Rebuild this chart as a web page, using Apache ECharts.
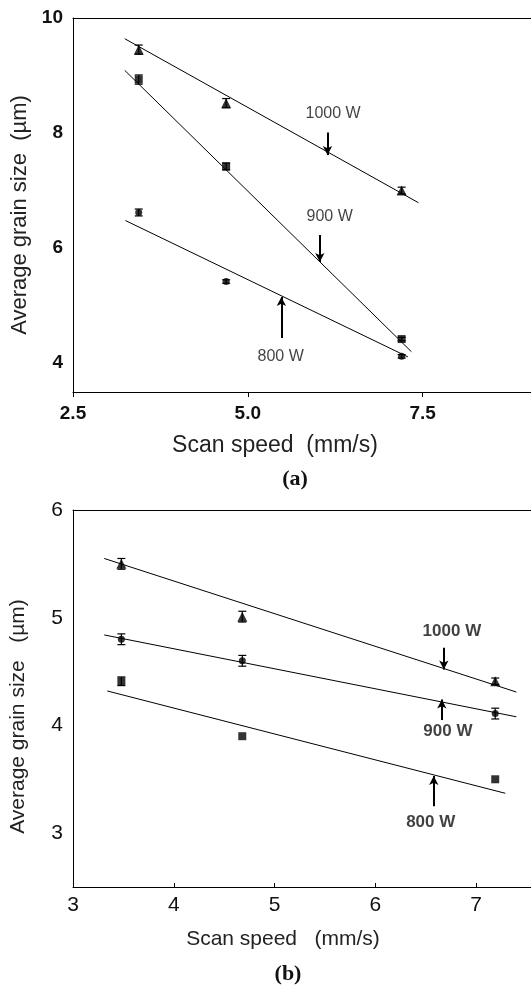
<!DOCTYPE html>
<html>
<head>
<meta charset="utf-8">
<script src="https://cdn.jsdelivr.net/npm/echarts@6/dist/echarts.min.js"></script>
<style>html,body{margin:0;padding:0;background:#fff}#c{width:531px;height:987px}</style>
</head>
<body>
<div id="c"></div>
<script>
// ---------- Panel (a) ----------
const speedsA = [3.44, 4.69, 7.20];
const grainA1000 = [9.45, 8.52, 7.00];
const grainA900 = [8.93, 7.42, 4.42];
const grainA800 = [6.62, 5.42, 4.12];
const errA1000 = [0.08, 0.08, 0.06];
const errA900 = [0.08, 0.06, 0.03];
const errA800 = [0.06, 0.03, 0.03];
const fitXA1000 = [3.24, 7.44], fitYA1000 = [9.64, 6.79];
const fitXA900 = [3.24, 7.34], fitYA900 = [9.09, 4.20];
const fitXA800 = [3.25, 7.29], fitYA800 = [6.48, 4.11];
const xTicksA = [2.5, 5.0, 7.5];
const yTicksA = [4, 6, 8, 10];
// annotation labels & arrows (data coordinates)
const labelsA = ['1000 W', '900 W', '800 W'];
const labelPosA = [[6.22, 8.33], [6.17, 6.54], [5.47, 4.12]];
const arrowsA = [[[6.14, 8.01], [6.14, 7.62]], [[6.03, 6.23], [6.03, 5.76]], [[5.48, 4.44], [5.48, 5.15]]];

// ---------- Panel (b) ----------
const speedsB = [3.48, 4.68, 7.19];
const grainB1000 = [5.50, 5.01, 4.41];
const grainB900 = [4.80, 4.60, 4.11];
const grainB800 = [4.41, 3.90, 3.50];
const errB1000 = [0.05, 0.05, 0.03];
const errB900 = [0.05, 0.05, 0.05];
const errB800 = [0.04, 0.0, 0.0];
const fitXB1000 = [3.31, 7.40], fitYB1000 = [5.55, 4.31];
const fitXB900 = [3.31, 7.40], fitYB900 = [4.84, 4.08];
const fitXB800 = [3.34, 7.29], fitYB800 = [4.32, 3.37];
const xTicksB = [3, 4, 5, 6, 7];
const yTicksB = [3, 4, 5, 6];
const labelsB = ['1000 W', '900 W', '800 W'];
const labelPosB = [[6.76, 4.87], [6.72, 3.95], [6.55, 3.10]];
const arrowsB = [[[6.68, 4.72], [6.68, 4.52]], [[6.66, 4.05], [6.66, 4.24]], [[6.58, 3.25], [6.58, 3.53]]];

// visible x-extent (plot frame runs past the right edge of the picture)
const xRangeA = [2.5, 9.05];
const xRangeB = [3, 7.545];

const SANS = 'Liberation Sans, Arial, sans-serif';
const zip = (xs, ys) => xs.map((x, i) => [x, ys[i]]);
const zip3 = (xs, ys, es) => xs.map((x, i) => [x, ys[i], es[i]]);
const isTick = (ticks, v) => ticks.some(t => Math.abs(t - v) < 1e-9);

function fitLine(xs, ys, g) {
  return { type: 'line', xAxisIndex: g, yAxisIndex: g, data: zip(xs, ys), symbol: 'none',
    lineStyle: { color: '#000', width: 1 }, z: 2, silent: true };
}
function pts(xs, ys, symbol, size, g) {
  return { type: 'scatter', xAxisIndex: g, yAxisIndex: g, data: zip(xs, ys), symbol: symbol,
    symbolSize: size, itemStyle: { color: '#000' }, z: 4 };
}
function errBars(xs, ys, es, g) {
  return { type: 'custom', xAxisIndex: g, yAxisIndex: g, data: zip3(xs, ys, es), z: 3,
    renderItem: function (params, api) {
      const x = api.value(0), y = api.value(1), e = api.value(2);
      if (!e) return null;
      const lo = api.coord([x, y - e]), hi = api.coord([x, y + e]);
      const w = 4;
      const st = { stroke: '#000', lineWidth: 1.2 };
      return { type: 'group', children: [
        { type: 'line', shape: { x1: lo[0], y1: lo[1], x2: hi[0], y2: hi[1] }, style: st },
        { type: 'line', shape: { x1: lo[0] - w, y1: lo[1], x2: lo[0] + w, y2: lo[1] }, style: st },
        { type: 'line', shape: { x1: hi[0] - w, y1: hi[1], x2: hi[0] + w, y2: hi[1] }, style: st }
      ] };
    } };
}
function annotations(names, pos, arrows, g, bold) {
  return { type: 'scatter', xAxisIndex: g, yAxisIndex: g, symbolSize: 0, silent: true,
    data: names.map((n, i) => ({ name: n, value: pos[i] })),
    label: { show: true, position: 'inside', formatter: p => p.name, color: '#111',
      fontFamily: SANS, fontSize: bold ? 17 : 16, fontWeight: bold ? 'bold' : 'normal' },
    markLine: { silent: true, symbol: ['none', 'arrow'], symbolSize: [7, 9], animation: false,
      lineStyle: { color: '#000', width: 2, type: 'solid' }, label: { show: false },
      data: arrows.map(a => [{ coord: a[0] }, { coord: a[1] }]) } };
}
function topFrame(g, range) {
  return { type: 'value', gridIndex: g, position: 'top', min: range[0], max: range[1],
    axisLine: { show: true, onZero: false, lineStyle: { color: '#000', width: 1 } },
    axisTick: { show: false }, axisLabel: { show: false }, splitLine: { show: false } };
}

const chart = echarts.init(document.getElementById('c'), null, { renderer: 'canvas' });
const option = {
  animation: false,
  backgroundColor: '#fff',
  title: [
    { text: '(a)', left: 290, top: 463, textAlign: 'center',
      textStyle: { fontFamily: 'Liberation Serif, Times New Roman, serif', fontWeight: 'bold', fontSize: 22, color: '#111' } },
    { text: '(b)', left: 283, top: 958, textAlign: 'center',
      textStyle: { fontFamily: 'Liberation Serif, Times New Roman, serif', fontWeight: 'bold', fontSize: 22, color: '#111' } }
  ],
  grid: [
    { left: 73, top: 18, height: 374, right: 0, show: false, containLabel: false },
    { left: 73, top: 510, height: 377, right: 0, show: false, containLabel: false }
  ],
  xAxis: [
    { type: 'value', gridIndex: 0, min: xRangeA[0], max: xRangeA[1], interval: 2.5,
      axisLine: { onZero: false, lineStyle: { color: '#000', width: 1 } },
      axisTick: { show: true, inside: false, length: 5, lineStyle: { color: '#000' } },
      splitLine: { show: false },
      axisLabel: { margin: 12, color: '#111', fontFamily: SANS, fontWeight: 'bold', fontSize: 19,
        showMaxLabel: false,
        formatter: v => (isTick(xTicksA, v) ? v.toFixed(1) : '') },
      name: 'Scan speed  (mm/s)', nameLocation: 'middle', nameGap: 42,
      nameTextStyle: { fontFamily: SANS, fontSize: 23, color: '#222', padding: [0, 54, 0, 0] } },
    { type: 'value', gridIndex: 1, min: xRangeB[0], max: xRangeB[1], interval: 1,
      axisLine: { onZero: false, lineStyle: { color: '#000', width: 1 } },
      axisTick: { show: true, inside: true, length: 4, lineStyle: { color: '#000' } },
      splitLine: { show: false },
      axisLabel: { margin: 8, color: '#111', fontFamily: SANS, fontSize: 21, showMaxLabel: false,
        formatter: v => (isTick(xTicksB, v) ? String(v) : '') },
      name: 'Scan speed   (mm/s)', nameLocation: 'middle', nameGap: 42,
      nameTextStyle: { fontFamily: SANS, fontSize: 21, color: '#222', padding: [0, 38, 0, 0] } },
    topFrame(0, xRangeA),
    topFrame(1, xRangeB)
  ],
  yAxis: [
    { type: 'value', gridIndex: 0, min: 3.5, max: 10, interval: 0.5,
      axisLine: { show: true, onZero: false, lineStyle: { color: '#000', width: 1 } },
      axisTick: { show: false }, splitLine: { show: false },
      axisLabel: { margin: 10, color: '#111', fontFamily: SANS, fontWeight: 'bold', fontSize: 19,
        formatter: v => (isTick(yTicksA, v) ? String(v) : '') },
      name: 'Average grain size  (µm)', nameLocation: 'middle', nameGap: 42, nameRotate: 90,
      nameTextStyle: { fontFamily: SANS, fontSize: 22, color: '#222', padding: [0, 20, 0, 0] } },
    { type: 'value', gridIndex: 1, min: 2.5, max: 6, interval: 0.5,
      axisLine: { show: true, onZero: false, lineStyle: { color: '#000', width: 1 } },
      axisTick: { show: false }, splitLine: { show: false },
      axisLabel: { margin: 10, color: '#111', fontFamily: SANS, fontSize: 21,
        formatter: v => (isTick(yTicksB, v) ? String(v) : '') },
      name: 'Average grain size   (µm)', nameLocation: 'middle', nameGap: 44, nameRotate: 90,
      nameTextStyle: { fontFamily: SANS, fontSize: 21, color: '#222', padding: [0, 36, 0, 0] } }
  ],
  series: [
    fitLine(fitXA1000, fitYA1000, 0), fitLine(fitXA900, fitYA900, 0), fitLine(fitXA800, fitYA800, 0),
    errBars(speedsA, grainA1000, errA1000, 0), errBars(speedsA, grainA900, errA900, 0), errBars(speedsA, grainA800, errA800, 0),
    pts(speedsA, grainA1000, 'triangle', 10, 0), pts(speedsA, grainA900, 'rect', 8, 0), pts(speedsA, grainA800, 'circle', 7, 0),
    annotations(labelsA, labelPosA, arrowsA, 0, false),

    fitLine(fitXB1000, fitYB1000, 1), fitLine(fitXB900, fitYB900, 1), fitLine(fitXB800, fitYB800, 1),
    errBars(speedsB, grainB1000, errB1000, 1), errBars(speedsB, grainB900, errB900, 1), errBars(speedsB, grainB800, errB800, 1),
    pts(speedsB, grainB1000, 'triangle', 10, 1), pts(speedsB, grainB900, 'circle', 7, 1), pts(speedsB, grainB800, 'rect', 8, 1),
    annotations(labelsB, labelPosB, arrowsB, 1, true)
  ]
};
chart.setOption(option);
</script>
</body>
</html>
